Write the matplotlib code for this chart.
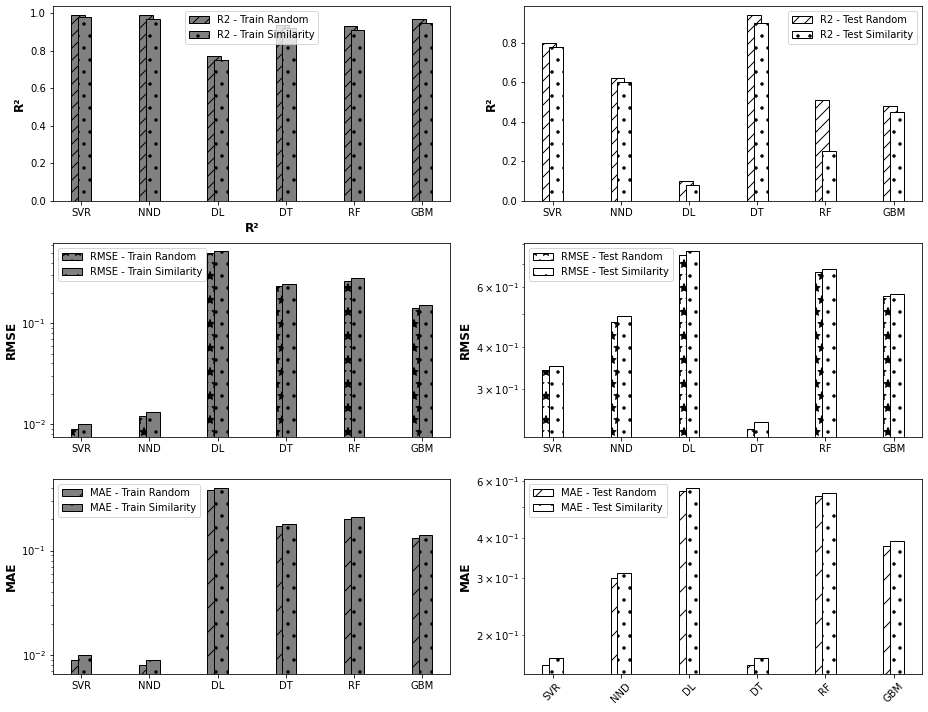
import numpy as np
import matplotlib
matplotlib.use("Agg")
import matplotlib.pyplot as plt

models = ["SVR", "NND", "DL", "DT", "RF", "GBM"]

r2_train_random = [0.99, 0.99, 0.77, 0.94, 0.93, 0.97]
r2_train_similarity = [0.98, 0.97, 0.75, 0.92, 0.91, 0.95]
r2_test_random = [0.80, 0.62, 0.10, 0.94, 0.51, 0.48]
r2_test_similarity = [0.78, 0.60, 0.08, 0.90, 0.25, 0.45]

rmse_train_random = [0.009, 0.012, 0.495, 0.235, 0.264, 0.142]
rmse_train_similarity = [0.010, 0.013, 0.518, 0.246, 0.282, 0.152]
rmse_test_random = [0.342, 0.473, 0.743, 0.230, 0.661, 0.563]
rmse_test_similarity = [0.351, 0.492, 0.762, 0.240, 0.677, 0.573]

mae_train_random = [0.009, 0.008, 0.382, 0.171, 0.201, 0.131]
mae_train_similarity = [0.010, 0.009, 0.396, 0.180, 0.209, 0.141]
mae_test_random = [0.162, 0.300, 0.559, 0.162, 0.539, 0.379]
mae_test_similarity = [0.171, 0.311, 0.570, 0.171, 0.550, 0.391]

x = np.arange(len(models))
width = 0.2

fig, axes = plt.subplots(3, 2, figsize=(928 / 72, 712 / 72), dpi=72)
fig.subplots_adjust(left=0.057, right=0.9935, top=0.9916, bottom=0.0534,
                    wspace=0.186, hspace=0.215)


def draw(ax, rand, sim, name, split, color, rand_hatch, ylabel, log=False, loc="best"):
    ax.bar(x - 0.05, rand, width, color=color, edgecolor="black", hatch=rand_hatch,
           label=f"{name} - {split} Random")
    ax.bar(x + 0.05, sim, width, color=color, edgecolor="black", hatch=".",
           label=f"{name} - {split} Similarity")
    if log:
        ax.set_yscale("log")
    ax.set_xticks(x)
    ax.set_xticklabels(models)
    ax.set_ylabel(ylabel, fontweight="bold", fontsize=12)
    ax.legend(loc=loc)


draw(axes[0, 0], r2_train_random, r2_train_similarity, "R2", "Train", "gray", "//", "R²",
     loc="upper center")
axes[0, 0].set_xlabel("R²", fontweight="bold", fontsize=12)
draw(axes[0, 1], r2_test_random, r2_test_similarity, "R2", "Test", "white", "//", "R²",
     loc="upper right")
draw(axes[1, 0], rmse_train_random, rmse_train_similarity, "RMSE", "Train", "gray", "*", "RMSE",
     log=True, loc="upper left")
draw(axes[1, 1], rmse_test_random, rmse_test_similarity, "RMSE", "Test", "white", "*", "RMSE",
     log=True, loc="upper left")
draw(axes[2, 0], mae_train_random, mae_train_similarity, "MAE", "Train", "gray", "/", "MAE",
     log=True, loc="upper left")
draw(axes[2, 1], mae_test_random, mae_test_similarity, "MAE", "Test", "white", "/", "MAE",
     log=True, loc="upper left")
plt.setp(axes[2, 1].get_xticklabels(), rotation=45)

fig.savefig("out.png", dpi=72)
